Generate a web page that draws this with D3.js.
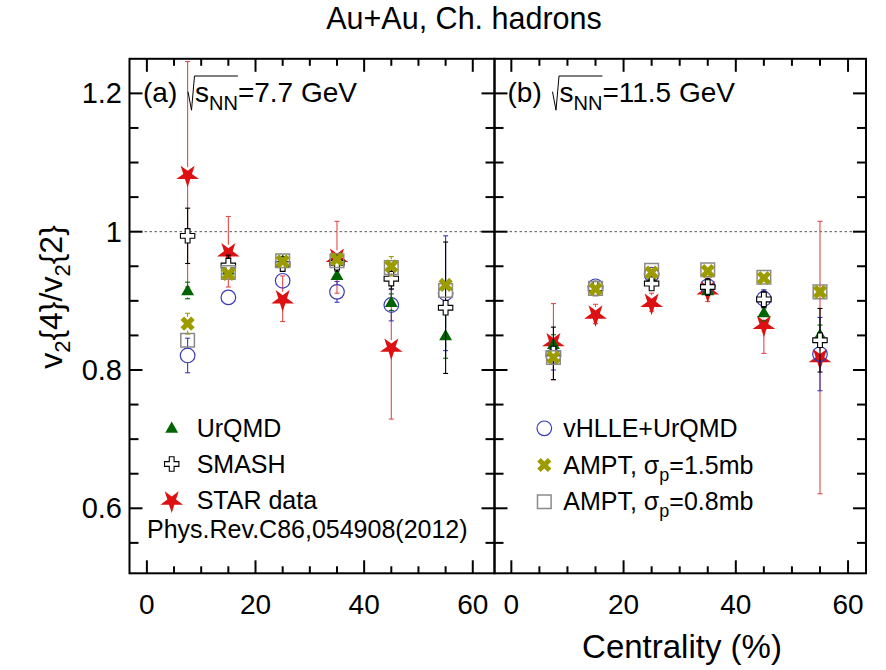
<!DOCTYPE html>
<html>
<head>
<meta charset="utf-8">
<script src="https://cdn.jsdelivr.net/npm/d3@7"></script>
<style>
  html, body { margin: 0; padding: 0; background: #fff; }
  svg { display: block; font-family: "Liberation Sans", Arial, Helvetica, sans-serif; }
</style>
</head>
<body>
<svg id="chart" width="886" height="670"></svg>
<script>
// ---------------- data ----------------
const centrality = [7.5, 15, 25, 35, 45, 55];
const starCentrality77 = [7.5, 15, 25, 35, 45];

// panel (a) sqrt(sNN) = 7.7 GeV
const urqmd77      = [0.915, 0.945, 0.958, 0.937, 0.898, 0.850];
const urqmd77Err   = [0.012, 0.010, 0.008, 0.010, 0.012, 0.033];
const smash77      = [0.994, 0.951, 0.953, 0.955, 0.932, 0.890];
const smash77Err   = [0.040, 0.015, 0.010, 0.012, 0.015, 0.095];
const star77       = [1.083, 0.971, 0.903, 0.963, 0.833];
const star77Err    = [0.163, 0.051, 0.033, 0.052, 0.104];
const vhlle77      = [0.821, 0.905, 0.929, 0.913, 0.894, 0.911];
const vhlle77Err   = [0.025, 0.006, 0.010, 0.015, 0.023, 0.083];
const ampt15_77    = [0.867, 0.939, 0.957, 0.960, 0.950, 0.923];
const ampt15_77Err = [0.015, 0.010, 0.008, 0.010, 0.014, 0.010];
const ampt08_77    = [0.843, 0.941, 0.958, 0.958, 0.948, 0.915];
const ampt08_77Err = [0.010, 0.008, 0.008, 0.008, 0.010, 0.010];

// panel (b) sqrt(sNN) = 11.5 GeV
const urqmd115      = [0.837, 0.920, 0.932, 0.915, 0.883, 0.851];
const urqmd115Err   = [0.014, 0.008, 0.008, 0.010, 0.012, 0.014];
const smash115      = [0.824, 0.918, 0.925, 0.920, 0.902, 0.843];
const smash115Err   = [0.038, 0.010, 0.010, 0.012, 0.012, 0.046];
const star115       = [0.841, 0.881, 0.898, 0.916, 0.866, 0.818];
const star115Err    = [0.055, 0.014, 0.013, 0.017, 0.042, 0.197];
const vhlle115      = [0.820, 0.921, 0.938, 0.921, 0.903, 0.823];
const vhlle115Err   = [0.020, 0.008, 0.010, 0.010, 0.013, 0.053];
const ampt15_115    = [0.818, 0.917, 0.941, 0.943, 0.933, 0.913];
const ampt15_115Err = [0.008, 0.008, 0.008, 0.008, 0.008, 0.008];
const ampt08_115    = [0.818, 0.918, 0.944, 0.945, 0.934, 0.913];
const ampt08_115Err = [0.008, 0.008, 0.008, 0.008, 0.008, 0.008];

const xTickValues = [0, 20, 40, 60];
const yTickValues = [0.6, 0.8, 1, 1.2];
const yTickLabels = ["0.6", "0.8", "1", "1.2"];

const titleText = "Au+Au, Ch. hadrons";
const xTitle = "Centrality (%)";

// ---------------- layout ----------------
const svg = d3.select("#chart");
const yTop = 58.8, yBot = 573.3;
const y = d3.scaleLinear().domain([0.506, 1.25]).range([yBot, yTop]);
const xa = d3.scaleLinear().domain([-3.2, 64]).range([129.5, 494.5]);
const xb = d3.scaleLinear().domain([-3.0, 63.2]).range([494.5, 866]);

const C = {
  urqmd: "#006400",
  smash: "#000000",
  star: "#dd1111",
  starErr: "#e34a4a",
  vhlle: "#3a3ab8",
  ampt15: "#9c9c00",
  ampt08: "#8a8a8a"
};

const sym = {
  triangle: d3.symbol().type(d3.symbolTriangle).size(72)(),
  cross: d3.symbol().type(d3.symbolCross).size(115)(),
  star: d3.symbol().type(d3.symbolStar).size(160)(),
  xcross: d3.symbol().type(d3.symbolCross).size(125)(),
  square: d3.symbol().type(d3.symbolSquare).size(185)()
};
const markerHalf = 7;

function drawMarker(g, kind, cx, cy) {
  if (kind === "urqmd") {
    g.append("path").attr("d", sym.triangle).attr("transform", `translate(${cx},${cy+1})`).attr("fill", C.urqmd);
  } else if (kind === "smash") {
    g.append("path").attr("d", sym.cross).attr("transform", `translate(${cx},${cy})`)
      .attr("fill", "#fff").attr("stroke", C.smash).attr("stroke-width", 1.1);
  } else if (kind === "star") {
    g.append("path").attr("d", sym.star).attr("transform", `translate(${cx},${cy+1}) rotate(180)`).attr("fill", C.star);
  } else if (kind === "vhlle") {
    g.append("circle").attr("cx", cx).attr("cy", cy).attr("r", 7.3)
      .attr("fill", "none").attr("stroke", C.vhlle).attr("stroke-width", 1.2);
  } else if (kind === "ampt15") {
    g.append("path").attr("d", sym.xcross).attr("transform", `translate(${cx},${cy}) rotate(45)`).attr("fill", C.ampt15);
  } else if (kind === "ampt08") {
    g.append("path").attr("d", sym.square).attr("transform", `translate(${cx},${cy})`)
      .attr("fill", "none").attr("stroke", C.ampt08).attr("stroke-width", 1.5);
  }
}

// ROOT-style error bars: not drawn inside the marker
function drawSeries(g, xs, xv, vals, errs, kind, errColor) {
  const eg = g.append("g").attr("stroke", errColor).attr("stroke-width", 1.1);
  xv.forEach((c, i) => {
    const cx = xs(c), yc = y(vals[i]);
    const yLo = y(vals[i] - errs[i]), yHi = y(vals[i] + errs[i]);
    if (yc - yHi > markerHalf) {
      eg.append("line").attr("x1", cx).attr("x2", cx).attr("y1", yc - markerHalf).attr("y2", yHi);
      eg.append("line").attr("x1", cx - 2.5).attr("x2", cx + 2.5).attr("y1", yHi).attr("y2", yHi);
    }
    if (yLo - yc > markerHalf) {
      eg.append("line").attr("x1", cx).attr("x2", cx).attr("y1", yc + markerHalf).attr("y2", yLo);
      eg.append("line").attr("x1", cx - 2.5).attr("x2", cx + 2.5).attr("y1", yLo).attr("y2", yLo);
    }
  });
  xv.forEach((c, i) => drawMarker(g, kind, xs(c), y(vals[i])));
}

function drawFrame(xs) {
  const g = svg.append("g");
  const [x0, x1] = xs.range();
  for (let v = 0; v <= 60; v += 5) {
    const L = v % 20 === 0 ? 13 : 7;
    const px = xs(v);
    g.append("line").attr("x1", px).attr("x2", px).attr("y1", yBot).attr("y2", yBot - L).attr("stroke", "#000").attr("stroke-width", 2);
    g.append("line").attr("x1", px).attr("x2", px).attr("y1", yTop).attr("y2", yTop + L).attr("stroke", "#000").attr("stroke-width", 2);
  }
  for (let k = 11; k <= 25; k++) {
    const v = k * 0.05;
    const L = k % 4 === 0 ? 13 : 9;
    const py = y(v);
    if (py > yBot - 1 || py < yTop + 1) continue;
    g.append("line").attr("x1", x0).attr("x2", x0 + L).attr("y1", py).attr("y2", py).attr("stroke", "#000").attr("stroke-width", 2);
    g.append("line").attr("x1", x1).attr("x2", x1 - L).attr("y1", py).attr("y2", py).attr("stroke", "#000").attr("stroke-width", 2);
  }
  g.append("rect").attr("x", x0).attr("y", yTop).attr("width", x1 - x0).attr("height", yBot - yTop)
    .attr("fill", "none").attr("stroke", "#000").attr("stroke-width", 2);
  g.selectAll("text.xt").data(xTickValues).join("text")
    .attr("class", "xt")
    .attr("x", d => xs(d)).attr("y", 614).attr("text-anchor", "middle")
    .attr("font-size", 28).text(d => d);
}

svg.append("line").attr("x1", xa.range()[0]).attr("x2", xb.range()[1])
  .attr("y1", y(1)).attr("y2", y(1)).attr("stroke", "#555").attr("stroke-width", 1).attr("stroke-dasharray", "2.5,2.5");

drawFrame(xa);
drawFrame(xb);

svg.selectAll("text.yt").data(yTickValues).join("text")
  .attr("class", "yt")
  .attr("x", 122).attr("y", d => y(d) + 10).attr("text-anchor", "end")
  .attr("font-size", 29).text((d, i) => yTickLabels[i]);

const ga = svg.append("g");
drawSeries(ga, xa, starCentrality77, star77, star77Err, "star", C.starErr);
drawSeries(ga, xa, centrality, vhlle77, vhlle77Err, "vhlle", C.vhlle);
drawSeries(ga, xa, centrality, urqmd77, urqmd77Err, "urqmd", C.urqmd);
drawSeries(ga, xa, centrality, smash77, smash77Err, "smash", C.smash);
drawSeries(ga, xa, centrality, ampt08_77, ampt08_77Err, "ampt08", C.ampt08);
drawSeries(ga, xa, centrality, ampt15_77, ampt15_77Err, "ampt15", C.ampt15);

const gb = svg.append("g");
drawSeries(gb, xb, centrality, star115, star115Err, "star", C.starErr);
drawSeries(gb, xb, centrality, vhlle115, vhlle115Err, "vhlle", C.vhlle);
drawSeries(gb, xb, centrality, urqmd115, urqmd115Err, "urqmd", C.urqmd);
drawSeries(gb, xb, centrality, smash115, smash115Err, "smash", C.smash);
drawSeries(gb, xb, centrality, ampt08_115, ampt08_115Err, "ampt08", C.ampt08);
drawSeries(gb, xb, centrality, ampt15_115, ampt15_115Err, "ampt15", C.ampt15);

function panelLabel(xLeft, label, energy) {
  const b = 101.7;
  svg.append("text").attr("x", xLeft).attr("y", b).attr("font-size", 28).text(label);
  const x0 = xLeft + 52;
  const s = svg.append("text").attr("x", x0).attr("y", b).attr("font-size", 28).text("s");
  const ws = s.node().getComputedTextLength();
  const nn = svg.append("text").attr("x", x0 + ws).attr("y", b + 8).attr("font-size", 20).text("NN");
  const wn = nn.node().getComputedTextLength();
  svg.append("text").attr("x", x0 + ws + wn).attr("y", b).attr("font-size", 28).text("=" + energy + " GeV");
  svg.append("path")
    .attr("d", `M${x0 - 7},${b - 10} L${x0 - 3.5},${b + 8.5} L${x0 - 0.5},${b - 25.7} L${x0 + ws + wn},${b - 25.7}`)
    .attr("fill", "none").attr("stroke", "#000").attr("stroke-width", 1);
}
panelLabel(143, "(a)", "7.7");
panelLabel(507.5, "(b)", "11.5");

function legendRow(mx, tx, yy, kind, parts) {
  drawMarker(svg, kind, mx, yy);
  const t = svg.append("text").attr("x", tx).attr("y", yy + 8.5).attr("font-size", 25);
  parts.forEach(p => {
    const ts = t.append("tspan").text(p.t);
    if (p.sub) ts.attr("font-size", 18).attr("dy", 7);
    if (p.back) ts.attr("dy", -7);
  });
}
legendRow(171.7, 196.7, 428, "urqmd", [{t: "UrQMD"}]);
legendRow(171.7, 196.7, 464, "smash", [{t: "SMASH"}]);
legendRow(171.7, 196.7, 500, "star", [{t: "STAR data"}]);
svg.append("text").attr("x", 147).attr("y", 538).attr("font-size", 25).text("Phys.Rev.C86,054908(2012)");

legendRow(544.3, 563.3, 428.3, "vhlle", [{t: "vHLLE+UrQMD"}]);
legendRow(544.3, 563.3, 465, "ampt15", [{t: "AMPT, σ"}, {t: "p", sub: true}, {t: "=1.5mb", back: true}]);
legendRow(544.3, 563.3, 501.7, "ampt08", [{t: "AMPT, σ"}, {t: "p", sub: true}, {t: "=0.8mb", back: true}]);

svg.append("text").attr("x", 464).attr("y", 28.5).attr("text-anchor", "middle").attr("font-size", 30.5).text(titleText);
svg.append("text").attr("x", 682).attr("y", 658).attr("text-anchor", "middle").attr("font-size", 33).text(xTitle);

const yt = svg.append("text").attr("transform", "translate(62,297) rotate(-90)")
  .attr("text-anchor", "middle").attr("font-size", 32);
yt.append("tspan").text("v");
yt.append("tspan").text("2").attr("font-size", 22).attr("dy", 8);
yt.append("tspan").text("{4}/v").attr("dy", -8);
yt.append("tspan").text("2").attr("font-size", 22).attr("dy", 8);
yt.append("tspan").text("{2}").attr("dy", -8);
</script>
</body>
</html>
